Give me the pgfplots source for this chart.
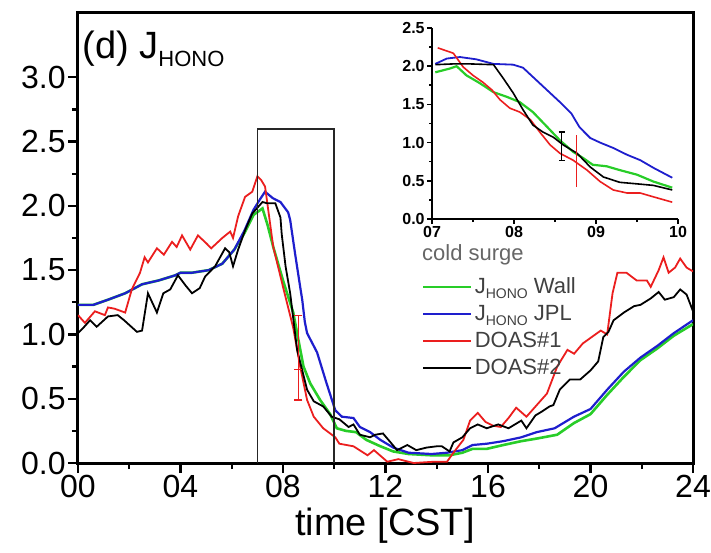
\documentclass[border=0pt]{standalone}
\usepackage{pgfplots}
\pgfplotsset{compat=1.18}
\usepackage{fontspec}
\setmainfont{Liberation Sans}
\definecolor{cgreen}{RGB}{40,205,40}
\definecolor{cblue}{RGB}{30,30,205}
\definecolor{cred}{RGB}{235,30,30}

\begin{document}
\begin{tikzpicture}
\useasboundingbox (-39pt,-44.5pt) rectangle (316.5pt,231.5pt);
% main panel
\begin{axis}[
    at={(0,0)}, anchor=south west,
    scale only axis, width=307.5pt, height=225pt,
    xmin=0, xmax=24, ymin=0, ymax=3.5,
    xtick={0,4,...,24}, xticklabels={00,04,08,12,16,20,24},
    minor x tick num=1,
    ytick={0,0.5,1,1.5,2,2.5,3}, minor y tick num=1,
    yticklabel style={/pgf/number format/fixed, /pgf/number format/fixed zerofill,
        /pgf/number format/precision=1, /pgf/number format/assume math mode=true},
    tick label style={font=\fontsize{16}{16}\selectfont},
    xticklabel style={inner sep=1pt},
    yticklabel style={inner sep=1pt},
    xtick pos=bottom, ytick pos=left, tick align=outside,
    major tick length=5pt, minor tick length=3pt,
    tick style={black, line width=1.2pt},
    axis line style={line width=1.5pt},
    xlabel={time [CST]},
    xlabel style={font=\fontsize{19}{19}\selectfont, at={(axis description cs:0.499,-0.16)}, anchor=base},
    legend style={at={(0.559,0.422)}, anchor=north west, draw=none, fill=none,
        inner sep=0pt, row sep=0pt, text=black!75,
        font=\fontsize{11}{11}\selectfont,
        nodes={inner sep=1pt, text height=9pt, text depth=2.5pt}},
    legend cell align=left,
    legend image code/.code={\draw[#1] (0pt,0pt) -- (24pt,0pt);},
]
\addplot[cgreen, line width=1.3pt] coordinates {
(0,1.23)(0.6,1.23)(1.17,1.27)(1.84,1.32)(2.5,1.39)(3.15,1.42)(3.8,1.46)(4.0,1.48)(4.45,1.48)
(5.1,1.50)(5.63,1.55)(6.1,1.66)(6.5,1.79)(6.85,1.93)(7.2,1.98)(7.4,1.85)(7.62,1.68)(8.0,1.42)(8.4,1.17)
(8.55,1.01)(8.8,0.75)(9.06,0.62)(9.45,0.49)(9.84,0.38)(10.1,0.27)(10.45,0.25)(10.85,0.24)
(11.25,0.18)(11.8,0.13)(12.3,0.09)(12.9,0.07)(13.8,0.06)(14.5,0.06)(15.0,0.08)(15.4,0.11)
(15.95,0.11)(16.6,0.14)(17.3,0.17)(17.9,0.19)(18.7,0.22)(19.35,0.31)(20.0,0.38)(20.65,0.53)
(21.3,0.67)(21.95,0.80)(22.6,0.89)(23.25,0.99)(24,1.08)};
\addlegendentry{J\raisebox{-2.5pt}{\fontsize{7}{7}\selectfont HONO} Wall}
\addplot[cblue, line width=1.1pt] coordinates {
(0,1.23)(0.6,1.23)(1.17,1.27)(1.84,1.32)(2.5,1.39)(3.15,1.42)(3.8,1.46)(4.0,1.48)(4.45,1.48)
(5.1,1.50)(5.63,1.55)(6.1,1.66)(6.5,1.81)(6.85,1.97)(7.1,2.05)(7.3,2.11)(7.6,2.06)(7.9,2.03)
(8.2,1.95)(8.28,1.89)(8.47,1.63)(8.67,1.37)(8.75,1.27)(8.85,1.10)(8.94,1.01)(9.33,0.86)
(9.7,0.62)(10.04,0.41)(10.3,0.36)(10.75,0.35)(11.0,0.28)(11.4,0.24)(11.8,0.18)(12.3,0.12)
(12.9,0.08)(13.8,0.07)(14.4,0.08)(15.0,0.10)(15.4,0.14)(15.95,0.15)(16.6,0.17)(17.3,0.20)
(17.9,0.24)(18.6,0.27)(19.35,0.36)(20.0,0.42)(20.65,0.57)(21.3,0.71)(21.95,0.82)(22.6,0.91)
(23.25,1.01)(24,1.11)};
\addlegendentry{J\raisebox{-2.5pt}{\fontsize{7}{7}\selectfont HONO} JPL}
\addplot[cred, line width=0.9pt] coordinates {
(0,1.15)(0.27,1.09)(0.66,1.18)(1.05,1.15)(1.17,1.21)(1.43,1.20)(1.84,1.17)(2.1,1.35)(2.42,1.48)
(2.6,1.60)(2.73,1.56)(3.08,1.67)(3.35,1.62)(3.67,1.72)(3.85,1.68)(4.06,1.77)(4.38,1.66)
(4.68,1.77)(5.0,1.71)(5.2,1.67)(5.63,1.75)(5.94,1.80)(6.05,1.75)(6.25,1.92)(6.52,2.07)
(6.8,2.11)(7.0,2.23)(7.15,2.20)(7.3,2.15)(7.62,1.68)(8.0,1.37)(8.4,1.05)(8.67,0.75)(8.94,0.49)
(9.2,0.36)(9.57,0.27)(10.04,0.20)(10.2,0.15)(10.75,0.13)(11.3,0.06)(11.55,0.10)(12.07,0.01)
(12.5,0.03)(13.1,0.00)(13.9,0.01)(14.4,0.01)(14.65,0.08)(15.04,0.18)(15.3,0.33)(15.6,0.39)
(15.9,0.32)(16.2,0.29)(16.5,0.28)(16.8,0.35)(17.1,0.43)(17.5,0.36)(17.9,0.45)(18.3,0.54)
(18.7,0.75)(19.1,0.88)(19.36,0.85)(19.7,0.93)(20.4,1.03)(20.65,1.00)(20.86,1.32)(21.05,1.48)
(21.4,1.48)(21.8,1.42)(22.2,1.42)(22.35,1.37)(22.66,1.50)(22.85,1.60)(23.05,1.48)(23.3,1.52)
(23.5,1.59)(23.75,1.52)(24,1.49)};
\addlegendentry{DOAS\#1}
\addplot[black, line width=0.9pt] coordinates {
(0,1.01)(0.2,1.05)(0.47,1.11)(0.73,1.06)(1.17,1.14)(1.55,1.15)(1.8,1.11)(2.3,1.02)(2.5,1.03)
(2.73,1.32)(3.08,1.17)(3.33,1.32)(3.6,1.35)(3.9,1.46)(4.2,1.38)(4.45,1.32)(4.75,1.36)(4.96,1.45)
(5.35,1.53)(5.74,1.67)(5.9,1.64)(6.05,1.53)(6.25,1.66)(6.52,1.81)(6.8,1.94)(7.2,2.03)(7.38,2.02)
(7.7,2.02)(7.9,1.91)(7.95,1.78)(8.1,1.53)(8.28,1.32)(8.55,0.88)(8.94,0.57)(9.2,0.48)(9.57,0.44)
(9.9,0.36)(10.2,0.34)(10.56,0.28)(10.75,0.30)(11.0,0.22)(11.4,0.20)(11.6,0.22)(11.9,0.23)
(12.2,0.16)(12.45,0.10)(12.85,0.14)(13.2,0.10)(13.6,0.12)(14.0,0.13)(14.2,0.13)(14.5,0.09)
(14.65,0.16)(15.0,0.20)(15.3,0.27)(15.6,0.30)(15.95,0.27)(16.4,0.30)(16.8,0.27)(17.3,0.33)
(17.5,0.27)(17.85,0.37)(18.1,0.40)(18.4,0.44)(18.55,0.45)(18.8,0.57)(19.2,0.65)(19.6,0.65)
(20.0,0.72)(20.3,0.79)(20.5,0.98)(20.7,1.02)(20.9,1.11)(21.3,1.17)(21.7,1.22)(21.95,1.23)
(22.35,1.28)(22.66,1.33)(22.9,1.27)(23.25,1.29)(23.5,1.35)(23.75,1.31)(24,1.18)};
\addlegendentry{DOAS\#2}
% zoom window
\addplot[black!85, line width=0.8pt, forget plot] coordinates {(7,0)(7,2.6)(10,2.6)(10,0)};
% error bar
\addplot[cred, line width=0.6pt, mark=-, mark size=2pt, forget plot,
    error bars/.cd, y dir=both, y explicit,
    error mark options={rotate=90, mark size=2pt, cred, line width=0.6pt}]
    coordinates {(8.6,0.73) += (0,0.42) -= (0,0.24)};
\node[anchor=base west, inner sep=0pt] at (rel axis cs:0.0065,0.9)
    {\fontsize{19}{19}\selectfont (d) J\raisebox{-4pt}{\fontsize{11}{11}\selectfont HONO}};
\node[anchor=base west, inner sep=0pt, text=black!60] at (rel axis cs:0.559,0.451)
    {\fontsize{11}{11}\selectfont cold surge};
\end{axis}
% inset
\begin{axis}[
    at={(177pt,122pt)}, anchor=south west,
    scale only axis, width=123pt, height=95.5pt,
    xmin=7, xmax=10, ymin=0, ymax=2.5,
    axis x line*=bottom, axis y line*=left,
    axis line style={-, line width=0.9pt},
    xtick={7,8,9,10}, xticklabels={07,08,09,10}, minor x tick num=1,
    ytick={0,0.5,1,1.5,2,2.5}, minor y tick num=1,
    yticklabel style={/pgf/number format/fixed, /pgf/number format/fixed zerofill,
        /pgf/number format/precision=1, /pgf/number format/assume math mode=true},
    tick label style={font=\fontsize{8}{8}\bfseries\selectfont, inner sep=1pt},
    tick align=outside, major tick length=2.5pt, minor tick length=1.5pt,
    tick style={black, line width=0.8pt},
]
\addplot[cgreen, line width=1.1pt] coordinates {
(7.04,1.92)(7.22,1.97)(7.3,2.00)(7.42,1.88)(7.58,1.78)(7.75,1.66)(7.91,1.60)(8.07,1.53)(8.23,1.40)
(8.4,1.21)(8.56,1.03)(8.72,0.88)(8.84,0.80)(8.96,0.71)(9.13,0.69)(9.29,0.64)(9.5,0.58)(9.7,0.49)(9.93,0.41)};
\addplot[cblue, line width=0.9pt] coordinates {
(7.04,2.03)(7.18,2.10)(7.34,2.12)(7.54,2.09)(7.75,2.03)(7.99,2.02)(8.11,1.98)(8.23,1.86)(8.4,1.69)
(8.56,1.53)(8.7,1.38)(8.8,1.20)(8.93,1.06)(9.05,1.00)(9.21,0.93)(9.38,0.84)(9.54,0.77)(9.7,0.67)(9.93,0.54)};
\addplot[cred, line width=0.8pt] coordinates {
(7.07,2.24)(7.26,2.17)(7.38,1.99)(7.5,1.88)(7.62,1.79)(7.73,1.69)(7.83,1.56)(7.95,1.45)(8.07,1.40)
(8.2,1.30)(8.32,1.13)(8.44,0.97)(8.56,0.86)(8.72,0.77)(8.89,0.64)(9.05,0.49)(9.21,0.38)(9.38,0.34)
(9.54,0.34)(9.7,0.29)(9.93,0.22)};
\addplot[black, line width=0.8pt] coordinates {
(7.04,2.02)(7.26,2.03)(7.46,2.03)(7.75,2.02)(7.87,1.84)(7.99,1.65)(8.11,1.43)(8.23,1.23)(8.35,1.14)
(8.48,1.07)(8.6,0.97)(8.77,0.86)(8.93,0.68)(9.09,0.55)(9.29,0.48)(9.5,0.46)(9.7,0.44)(9.93,0.38)};
\addplot[black, line width=0.9pt, mark=none,
    error bars/.cd, y dir=both, y explicit,
    error mark options={rotate=90, mark size=1.5pt, black, line width=0.9pt}]
    coordinates {(8.58,0.95) +- (0,0.185)};
\addplot[cred, line width=0.6pt, mark=none,
    error bars/.cd, y dir=both, y explicit, error mark=none]
    coordinates {(8.76,0.76) +- (0,0.34)};
\end{axis}
\end{tikzpicture}
\end{document}
